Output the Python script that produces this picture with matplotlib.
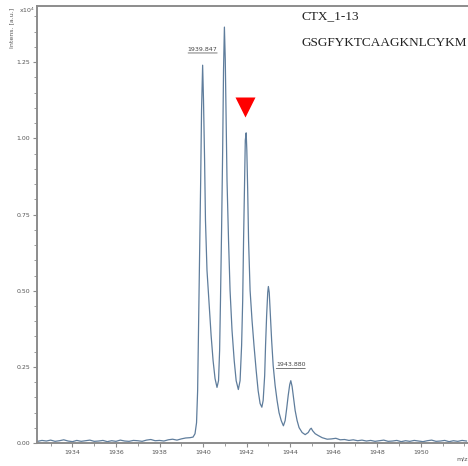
import matplotlib
matplotlib.use("Agg")
import matplotlib.pyplot as plt
from matplotlib.ticker import MultipleLocator, FormatStrFormatter
from matplotlib.transforms import offset_copy

# spectrum trace (m/z, intensity x10^4)
base_left_mz = [1932.4, 1932.6, 1932.8, 1933.0, 1933.2, 1933.4, 1933.6, 1933.8,
                1934.0, 1934.2, 1934.4, 1934.6, 1934.8, 1935.0, 1935.2, 1935.4,
                1935.6, 1935.8, 1936.0, 1936.2, 1936.4, 1936.6, 1936.8, 1937.0,
                1937.2, 1937.4, 1937.6, 1937.8, 1938.0, 1938.2, 1938.4, 1938.6,
                1938.8, 1939.0, 1939.2, 1939.4]
base_left_int = [0.006, 0.009, 0.007, 0.010, 0.006, 0.008, 0.011, 0.007,
                 0.005, 0.009, 0.006, 0.008, 0.010, 0.006, 0.007, 0.009,
                 0.005, 0.008, 0.006, 0.010, 0.007, 0.006, 0.009, 0.008,
                 0.006, 0.010, 0.012, 0.008, 0.009, 0.007, 0.011, 0.013,
                 0.010, 0.014, 0.017, 0.018]

peak_mz = [1939.54, 1939.63, 1939.70, 1939.75, 1939.79, 1939.84, 1939.89, 1939.93,
           1939.98, 1940.02, 1940.07, 1940.11, 1940.18, 1940.28, 1940.37, 1940.46,
           1940.55, 1940.64, 1940.71, 1940.76, 1940.80, 1940.85, 1940.90, 1940.94,
           1940.98, 1941.02, 1941.06, 1941.10, 1941.17, 1941.24, 1941.33, 1941.43,
           1941.52, 1941.62, 1941.70, 1941.77, 1941.82, 1941.86, 1941.91, 1941.94,
           1941.98, 1942.01, 1942.05, 1942.09, 1942.16, 1942.25, 1942.34, 1942.44,
           1942.53, 1942.62, 1942.70, 1942.76, 1942.83, 1942.87, 1942.92, 1942.97,
           1943.00, 1943.04, 1943.08, 1943.15, 1943.22, 1943.31, 1943.40, 1943.49,
           1943.59, 1943.69, 1943.77, 1943.84, 1943.91, 1943.98, 1944.03, 1944.09,
           1944.16, 1944.23, 1944.32, 1944.41, 1944.55, 1944.69, 1944.83, 1944.92,
           1944.97, 1945.03, 1945.15, 1945.29, 1945.47, 1945.70]
peak_int = [0.020, 0.031, 0.067, 0.172, 0.370, 0.599, 0.862, 1.092,
            1.240, 1.125, 0.928, 0.731, 0.567, 0.452, 0.353, 0.271,
            0.212, 0.183, 0.205, 0.304, 0.468, 0.698, 0.961, 1.224,
            1.365, 1.257, 1.059, 0.862, 0.665, 0.501, 0.370, 0.271,
            0.205, 0.176, 0.205, 0.320, 0.468, 0.665, 0.862, 0.994,
            1.018, 0.961, 0.829, 0.665, 0.501, 0.402, 0.320, 0.238,
            0.172, 0.130, 0.118, 0.140, 0.222, 0.320, 0.419, 0.494,
            0.514, 0.494, 0.435, 0.337, 0.255, 0.189, 0.140, 0.100,
            0.074, 0.057, 0.074, 0.113, 0.156, 0.192, 0.205, 0.186,
            0.146, 0.107, 0.074, 0.051, 0.035, 0.028, 0.035, 0.046,
            0.049, 0.041, 0.031, 0.025, 0.018, 0.013]

base_right_mz = [1945.9, 1946.1, 1946.3, 1946.5, 1946.7, 1946.9, 1947.1, 1947.3,
                 1947.5, 1947.7, 1947.9, 1948.1, 1948.3, 1948.5, 1948.7, 1948.9,
                 1949.1, 1949.3, 1949.5, 1949.7, 1949.9, 1950.1, 1950.3, 1950.5,
                 1950.7, 1950.9, 1951.1, 1951.3, 1951.5, 1951.7, 1951.9, 1952.1]
base_right_int = [0.014, 0.016, 0.011, 0.012, 0.009, 0.011, 0.008, 0.010,
                  0.007, 0.009, 0.006, 0.008, 0.010, 0.006, 0.007, 0.009,
                  0.005, 0.008, 0.006, 0.009, 0.007, 0.005, 0.008, 0.010,
                  0.006, 0.007, 0.009, 0.005, 0.008, 0.006, 0.009, 0.007]

mz = base_left_mz + peak_mz + base_right_mz
intens = base_left_int + peak_int + base_right_int

labels = ["1939.847", "1943.880"]
label_mz = [1939.98, 1944.03]
label_int = [1.240, 0.205]

mz_ticks = [1934, 1936, 1938, 1940, 1942, 1944, 1946, 1948, 1950]

arrow_mz = 1941.93
arrow_int = 1.102

fig = plt.figure(figsize=(4.68, 4.66), dpi=100)
ax = fig.add_axes([0.079, 0.049, 0.921, 0.938])

ax.plot(mz, intens, color="#5f7d9c", lw=0.9)

for lab, x, y in zip(labels, label_mz, label_int):
    ax.annotate(lab, (x, y), xytext=(0, 9.5), textcoords="offset points",
                ha="center", va="bottom", fontsize=4.5, color="#444444")
    # underline below the label
    tr = offset_copy(ax.transData, fig=fig, x=-10.5, y=8.8, units="points")
    ax.annotate("", xy=(x, y), xycoords=tr, xytext=(21, 0), textcoords="offset points",
                arrowprops=dict(arrowstyle="-", lw=0.5, color="#444444",
                                shrinkA=0, shrinkB=0))

ax.plot([arrow_mz], [arrow_int], marker="v", ms=13.7, color="#ff0000", mec="none")

ax.set_xlim(1932.37, 1952.17)
ax.set_ylim(0, 1.434)

ax.set_xticks(mz_ticks)
ax.xaxis.set_minor_locator(MultipleLocator(1))
ax.yaxis.set_major_locator(MultipleLocator(0.25))
ax.yaxis.set_minor_locator(MultipleLocator(0.05))
ax.yaxis.set_major_formatter(FormatStrFormatter("%.2f"))
ax.xaxis.set_major_formatter(FormatStrFormatter("%d"))

for s in ["left", "top", "bottom"]:
    ax.spines[s].set_color("#8c8c8c")
    ax.spines[s].set_linewidth(1.4)
ax.spines["right"].set_visible(False)

ax.tick_params(which="both", color="#8c8c8c", labelsize=4.5, labelcolor="#555555",
               direction="out", pad=2)
ax.tick_params(which="major", length=3, width=0.8)
ax.tick_params(which="minor", length=2, width=0.6)

fig.text(0.025, 0.94, "Intens. [a.u.]", rotation=90, fontsize=4.5,
         color="#555555", ha="center", va="center")
fig.text(0.058, 0.978, r"x10$^4$", fontsize=4.5, color="#555555",
         ha="center", va="center")
fig.text(0.988, 0.016, "m/z", fontsize=4.5, color="#555555", ha="center", va="center")

fig.text(0.645, 0.965, "CTX_1-13", fontsize=9.5, family="Liberation Serif",
         color="#222222", va="center")
fig.text(0.645, 0.908, "GSGFYKTCAAGKNLCYKM", fontsize=9.5, family="Liberation Serif",
         color="#222222", va="center")

fig.savefig("out.png", dpi=100)
